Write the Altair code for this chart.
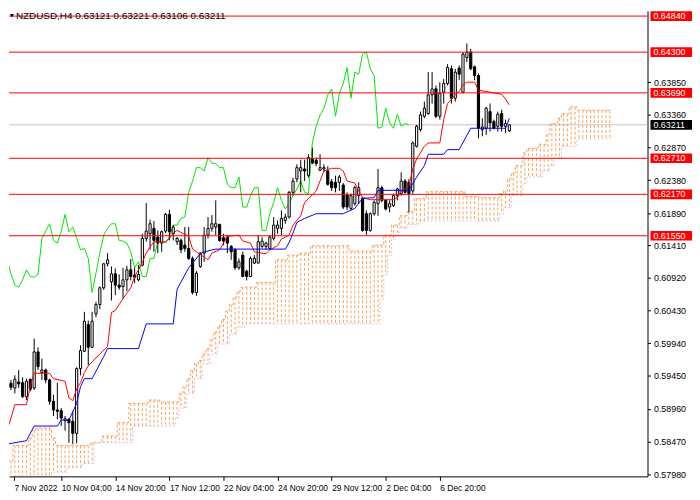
import json
import altair as alt
import pandas as pd

# ---------------- data ----------------
OPEN = [0.5917, 0.5934, 0.5927, 0.5936, 0.5935, 0.5914, 0.5940, 0.5927, 0.5981, 0.5950,
        0.5954, 0.5939, 0.5907, 0.5894, 0.5893, 0.5878, 0.5880, 0.5877, 0.5859, 0.5956,
        0.5982, 0.6022, 0.5988, 0.6038, 0.6052, 0.6077, 0.6113, 0.6086, 0.6098, 0.6081,
        0.6079, 0.6089, 0.6104, 0.6096, 0.6089, 0.6111, 0.6151, 0.6158, 0.6166, 0.6153,
        0.6144, 0.6162, 0.6187, 0.6158, 0.6146, 0.6148, 0.6141, 0.6136, 0.6121, 0.6070,
        0.6109, 0.6129, 0.6156, 0.6166, 0.6168, 0.6172, 0.6152, 0.6153, 0.6139, 0.6134,
        0.6107, 0.6126, 0.6102, 0.6094, 0.6114, 0.6114, 0.6139, 0.6139, 0.6136, 0.6151,
        0.6166, 0.6166, 0.6178, 0.6183, 0.6220, 0.6240, 0.6252, 0.6255, 0.6245, 0.6270,
        0.6268, 0.6253, 0.6255, 0.6252, 0.6236, 0.6235, 0.6235, 0.6231, 0.6216, 0.6196,
        0.6203, 0.6215, 0.6211, 0.6188, 0.6163, 0.6188, 0.6203, 0.6227, 0.6208, 0.6198,
        0.6200, 0.6215, 0.6218, 0.6237, 0.6235, 0.6222, 0.6289, 0.6314, 0.6334, 0.6338,
        0.6366, 0.6375, 0.6334, 0.6370, 0.6383, 0.6405, 0.6361, 0.6406, 0.6370, 0.6422,
        0.6430, 0.6408, 0.6395, 0.6314, 0.6316, 0.6341, 0.6326, 0.6319, 0.6338, 0.6319,
        0.63121]
HIGH = [0.5939, 0.5939, 0.5946, 0.5954, 0.5943, 0.5941, 0.5941, 0.6001, 0.5988, 0.5971,
        0.5956, 0.5941, 0.5917, 0.5935, 0.5897, 0.5885, 0.5882, 0.5892, 0.5958, 0.5991,
        0.6041, 0.6028, 0.6041, 0.6056, 0.6079, 0.6114, 0.6129, 0.6109, 0.6106, 0.6097,
        0.6107, 0.6110, 0.6120, 0.6107, 0.6111, 0.6158, 0.6204, 0.6179, 0.6177, 0.6163,
        0.6163, 0.6189, 0.6194, 0.6171, 0.6153, 0.6151, 0.6168, 0.6168, 0.6124, 0.6102,
        0.6130, 0.6168, 0.6183, 0.6186, 0.6208, 0.6173, 0.6158, 0.6156, 0.6141, 0.6136,
        0.6121, 0.6131, 0.6104, 0.6124, 0.6126, 0.6156, 0.6153, 0.6146, 0.6156, 0.6183,
        0.6178, 0.6193, 0.6188, 0.6222, 0.6242, 0.6262, 0.6269, 0.6269, 0.6277, 0.6287,
        0.6272, 0.6277, 0.6262, 0.6259, 0.6240, 0.6245, 0.6246, 0.6234, 0.6220, 0.6218,
        0.6230, 0.6235, 0.6213, 0.6193, 0.6190, 0.6208, 0.6255, 0.6230, 0.6210, 0.6208,
        0.6218, 0.6227, 0.6250, 0.6240, 0.6240, 0.6296, 0.6321, 0.6341, 0.6356, 0.6400,
        0.6400, 0.6380, 0.6385, 0.6390, 0.6412, 0.6410, 0.6405, 0.6410, 0.6430, 0.6443,
        0.6435, 0.6410, 0.6398, 0.6331, 0.6348, 0.6353, 0.6329, 0.6341, 0.6344, 0.6329,
        0.63221]
LOW = [0.5909, 0.5924, 0.5919, 0.5927, 0.5912, 0.5909, 0.5922, 0.5924, 0.5954, 0.5939,
       0.5934, 0.5902, 0.5885, 0.5880, 0.5870, 0.5863, 0.5845, 0.5843, 0.5844, 0.5946,
       0.5981, 0.5961, 0.5987, 0.6033, 0.6045, 0.6074, 0.6109, 0.6058, 0.6066, 0.6074,
       0.6061, 0.6072, 0.6088, 0.6084, 0.6087, 0.6109, 0.6146, 0.6134, 0.6131, 0.6129,
       0.6131, 0.6159, 0.6148, 0.6148, 0.6141, 0.6129, 0.6131, 0.6119, 0.6067, 0.6065,
       0.6107, 0.6116, 0.6151, 0.6161, 0.6156, 0.6146, 0.6141, 0.6129, 0.6119, 0.6104,
       0.6104, 0.6093, 0.6088, 0.6093, 0.6113, 0.6114, 0.6136, 0.6134, 0.6134, 0.6148,
       0.6158, 0.6156, 0.6173, 0.6181, 0.6215, 0.6235, 0.6220, 0.6237, 0.6242, 0.6262,
       0.6259, 0.6252, 0.6250, 0.6230, 0.6222, 0.6220, 0.6222, 0.6195, 0.6193, 0.6193,
       0.6200, 0.6203, 0.6161, 0.6156, 0.6161, 0.6185, 0.6185, 0.6205, 0.6193, 0.6190,
       0.6198, 0.6208, 0.6215, 0.6218, 0.6190, 0.6218, 0.6287, 0.6311, 0.6331, 0.6336,
       0.6353, 0.6331, 0.6329, 0.6353, 0.6380, 0.6353, 0.6356, 0.6388, 0.6368, 0.6415,
       0.6403, 0.6388, 0.6301, 0.6304, 0.6306, 0.6311, 0.6314, 0.6311, 0.6311, 0.6309,
       0.63106]
CLOSE = [0.5931, 0.5928, 0.5940, 0.5933, 0.5914, 0.5937, 0.5925, 0.5981, 0.5959, 0.5954,
         0.5939, 0.5907, 0.5894, 0.5892, 0.5882, 0.5881, 0.5875, 0.5859, 0.5956, 0.5983,
         0.6027, 0.5988, 0.6027, 0.6052, 0.6077, 0.6113, 0.6119, 0.6098, 0.6081, 0.6078,
         0.6089, 0.6104, 0.6094, 0.6093, 0.6097, 0.6151, 0.6162, 0.6173, 0.6148, 0.6144,
         0.6161, 0.6187, 0.6161, 0.6168, 0.6151, 0.6134, 0.6136, 0.6121, 0.6070, 0.6099,
         0.6129, 0.6156, 0.6166, 0.6173, 0.6173, 0.6148, 0.6147, 0.6144, 0.6131, 0.6107,
         0.6116, 0.6094, 0.6094, 0.6121, 0.6121, 0.6146, 0.6147, 0.6144, 0.6153, 0.6171,
         0.6171, 0.6181, 0.6183, 0.6220, 0.6237, 0.6257, 0.6257, 0.6252, 0.6272, 0.6264,
         0.6263, 0.6257, 0.6257, 0.6232, 0.6227, 0.6227, 0.6243, 0.6198, 0.6198, 0.6215,
         0.6227, 0.6227, 0.6163, 0.6163, 0.6188, 0.6205, 0.6227, 0.6208, 0.6195, 0.6203,
         0.6215, 0.6225, 0.6237, 0.6220, 0.6218, 0.6294, 0.6319, 0.6336, 0.6346, 0.6366,
         0.6375, 0.6334, 0.6368, 0.6383, 0.6407, 0.6361, 0.6400, 0.6397, 0.6427, 0.6430,
         0.6405, 0.6395, 0.6316, 0.6318, 0.6346, 0.6324, 0.6316, 0.6337, 0.6319, 0.6323,
         0.63211]

# Tenkan-sen (red) and Kijun-sen (blue) read as breakpoints (bar index, price)
TENKAN_I = [0, 1, 2, 5, 6, 7, 11, 12, 15, 16, 17, 18, 19, 20, 21, 24, 26, 27, 28, 30,
            32, 33, 34, 35, 36, 37, 38, 41, 42, 43, 44, 45, 46, 47, 48, 49, 52, 53, 55, 57,
            60, 61, 63, 64, 67, 68, 70, 71, 72, 73, 74, 76, 77, 80, 81, 82, 84, 86, 87, 88,
            90, 91, 92, 94, 100, 101, 102, 104, 105, 106, 108, 109, 112, 113, 114, 116, 117, 118, 119, 121,
            122, 128, 129, 130]
TENKAN_P = [0.5864, 0.5882, 0.5902, 0.5902, 0.5930, 0.5949, 0.5949, 0.5941, 0.5937, 0.5912,
            0.5908, 0.5926, 0.5935, 0.5950, 0.5960, 0.5978, 0.5989, 0.6040, 0.6043, 0.6061,
            0.6077, 0.6094, 0.6104, 0.6115, 0.6129, 0.6138, 0.6146, 0.6146, 0.6151, 0.6159,
            0.6163, 0.6160, 0.6157, 0.6154, 0.6135, 0.6131, 0.6119, 0.6129, 0.6134, 0.6154,
            0.6156, 0.6147, 0.6144, 0.6131, 0.6128, 0.6134, 0.6140, 0.6150, 0.6153, 0.6156,
            0.6171, 0.6185, 0.6205, 0.6222, 0.6237, 0.6252, 0.6256, 0.6256, 0.6252, 0.6237,
            0.6234, 0.6222, 0.6212, 0.6209, 0.6209, 0.6212, 0.6221, 0.6230, 0.6255, 0.6270,
            0.6289, 0.6294, 0.6294, 0.6329, 0.6353, 0.6366, 0.6371, 0.6381, 0.6385, 0.6385,
            0.6373, 0.6367, 0.6360, 0.6351]
KIJUN_I = [0, 5, 7, 13, 14, 16, 18, 19, 20, 22, 25, 26, 34, 36, 43, 44, 47, 50, 51, 54,
           72, 73, 74, 75, 77, 80, 87, 90, 92, 95, 96, 104, 106, 108, 109, 113, 114, 117, 120, 129,
           130]
KIJUN_P = [0.5843, 0.5848, 0.5870, 0.5870, 0.5879, 0.5879, 0.5904, 0.5929, 0.5941, 0.5941,
           0.5974, 0.5986, 0.5986, 0.6023, 0.6023, 0.6075, 0.6107, 0.6128, 0.6131, 0.6135,
           0.6135, 0.6145, 0.6159, 0.6175, 0.6181, 0.6188, 0.6188, 0.6196, 0.6211, 0.6212,
           0.6223, 0.6223, 0.6243, 0.6260, 0.6277, 0.6277, 0.6284, 0.6284, 0.6316, 0.6316,
           0.6331]
CHIKOU_SHIFT = 26

# Kumo (cloud): flat steps of Senkou A and Senkou B, start index -> value
SPAN_A_START = [0, 2, 6, 7, 8, 12, 13, 22, 25, 29, 32, 37, 40, 45, 46, 47, 48, 49, 50, 51,
                52, 53, 54, 55, 56, 57, 58, 59, 60, 61, 65, 70, 73, 76, 79, 89, 95, 98, 100, 102,
                104, 106, 109, 119, 122, 128, 129, 130, 131, 132, 134, 135, 138, 140, 141, 143, 144, 146, 148]
SPAN_A_VAL = [0.5818, 0.5841, 0.5852, 0.5864, 0.5867, 0.5852, 0.5841, 0.5845, 0.5855, 0.5875,
              0.5904, 0.5909, 0.5906, 0.5919, 0.5929, 0.5941, 0.5953, 0.5963, 0.5968, 0.5978,
              0.5986, 0.6000, 0.6011, 0.6020, 0.6030, 0.6042, 0.6052, 0.6063, 0.6072, 0.6078,
              0.6085, 0.6119, 0.6126, 0.6129, 0.6140, 0.6132, 0.6141, 0.6156, 0.6171, 0.6185,
              0.6191, 0.6211, 0.6221, 0.6214, 0.6212, 0.6218, 0.6222, 0.6240, 0.6249, 0.6260,
              0.6279, 0.6286, 0.6292, 0.6307, 0.6323, 0.6331, 0.6338, 0.6348, 0.6343]
SPAN_B_START = [0, 12, 16, 20, 23, 33, 44, 45, 47, 49, 51, 53, 55, 58, 60, 62, 97, 98, 99, 100,
                101, 102, 104, 107, 128, 129, 131, 134, 135, 139, 141, 142, 144, 148]
SPAN_B_VAL = [0.5793, 0.5801, 0.5808, 0.5814, 0.5845, 0.5870, 0.5882, 0.5897, 0.5919, 0.5941,
              0.5963, 0.5978, 0.5993, 0.6008, 0.6018, 0.6023, 0.6060, 0.6097, 0.6126, 0.6149,
              0.6156, 0.6166, 0.6172, 0.6177, 0.6188, 0.6197, 0.6215, 0.6233, 0.6243, 0.6252,
              0.6260, 0.6271, 0.6289, 0.6300]
CLOUD_END = 156

LEVELS = [0.64840, 0.64300, 0.63690, 0.62710, 0.62170, 0.61550]
LAST_PRICE = 0.63211
PRICE_TICKS = [0.57980, 0.58470, 0.58960, 0.59450, 0.59940, 0.60430, 0.60920,
               0.61410, 0.61890, 0.62380, 0.62870, 0.63360, 0.63850]
DATE_TICKS = [1.8, 14, 28, 42, 56, 70, 84, 98, 112]
DATE_LABELS = ["7 Nov 2022", "10 Nov 04:00", "14 Nov 20:00", "17 Nov 12:00",
               "22 Nov 04:00", "24 Nov 20:00", "29 Nov 12:00", "2 Dec 04:00", "6 Dec 20:00"]
HEADER = "NZDUSD,H4  0.63121 0.63221 0.63106 0.63211"

# ---------------- build tables ----------------
W, H = 646, 471
XDOM = [1.763, 164.48]
YDOM = [0.57946, 0.64919]
FONT = "Liberation Sans"

xs = alt.Scale(domain=XDOM, nice=False, zero=False)
ys = alt.Scale(domain=YDOM, nice=False, zero=False)

n = len(OPEN)
candles = pd.DataFrame({"i": list(range(n)), "o": OPEN, "h": HIGH, "l": LOW, "c": CLOSE})
candles["dir"] = ["up" if c >= o else "down" for o, c in zip(OPEN, CLOSE)]

tenkan = pd.DataFrame({"i": TENKAN_I, "p": TENKAN_P})
kijun = pd.DataFrame({"i": KIJUN_I, "p": KIJUN_P})
chikou = pd.DataFrame({"i": list(range(n - CHIKOU_SHIFT)), "p": CLOSE[CHIKOU_SHIFT:]})


def expand(starts, vals, end):
    out = []
    for k, s in enumerate(starts):
        e = starts[k + 1] if k + 1 < len(starts) else end + 1
        out += [vals[k]] * (e - s)
    return out


cloud = pd.DataFrame({
    "i": list(range(CLOUD_END + 1)),
    "a": expand(SPAN_A_START, SPAN_A_VAL, CLOUD_END),
    "b": expand(SPAN_B_START, SPAN_B_VAL, CLOUD_END),
})

levels = pd.DataFrame({"p": LEVELS})
boxes = pd.DataFrame({
    "p": LEVELS + [LAST_PRICE],
    "label": [f"{v:.5f}" for v in LEVELS] + [f"{LAST_PRICE:.5f}"],
    "kind": ["level"] * len(LEVELS) + ["last"],
})
header = pd.DataFrame({"t": [HEADER]})

label_expr = json.dumps(DATE_LABELS) + "[round(datum.value / 14)]"

X_AXIS = alt.Axis(values=DATE_TICKS, labelExpr=label_expr, labelAlign="left",
                  labelPadding=3, tickSize=4, tickColor="black", domainColor="black",
                  labelColor="black", labelFont=FONT, labelFontSize=8.5, grid=False,
                  title=None, labelFlush=False, labelOverlap=False)
Y_AXIS = alt.Axis(orient="right", values=PRICE_TICKS, format=".5f", tickSize=3,
                  labelPadding=3, tickColor="black", domainColor="black",
                  labelColor="black", labelFont=FONT, labelFontSize=9, grid=False,
                  title=None, labelFlush=False, labelOverlap=False)


def X(field="i:Q"):
    return alt.X(field, scale=xs, axis=X_AXIS, title=None)


def Y(field):
    return alt.Y(field, scale=ys, axis=Y_AXIS, title=None)


# ---------------- layers ----------------
last_line = alt.Chart(boxes).transform_filter("datum.kind == 'last'").mark_rule(
    color="#c0c0c0", strokeWidth=1).encode(y=Y("p:Q"))

cloud_rules = alt.Chart(cloud).mark_rule(
    color="#f4a460", strokeWidth=1, strokeDash=[3, 2], clip=True).encode(
    x=X(), y=Y("a:Q"), y2="b:Q")

span_b = alt.Chart(cloud).mark_line(
    color="#d8bfd8", strokeWidth=1, strokeDash=[2, 2], interpolate="step", clip=True).encode(
    x=X(), y=Y("b:Q"))

span_a = alt.Chart(cloud).mark_line(
    color="#f4a460", strokeWidth=1, strokeDash=[3, 2], interpolate="step", clip=True).encode(
    x=X(), y=Y("a:Q"))

wicks = alt.Chart(candles).mark_rule(color="black", strokeWidth=1, clip=True).encode(
    x=X(), y=Y("l:Q"), y2="h:Q")

bodies = alt.Chart(candles).mark_bar(width=2.2, stroke="black", strokeWidth=1, clip=True).encode(
    x=X(), y=Y("o:Q"), y2="c:Q",
    fill=alt.Fill("dir:N", scale=alt.Scale(domain=["up", "down"], range=["white", "black"]),
                  legend=None))

chikou_line = alt.Chart(chikou).mark_line(color="#00e600", strokeWidth=1, clip=True).encode(
    x=X(), y=Y("p:Q"))
tenkan_line = alt.Chart(tenkan).mark_line(color="#ff0000", strokeWidth=1, clip=True).encode(
    x=X(), y=Y("p:Q"))
kijun_line = alt.Chart(kijun).mark_line(color="#0000ff", strokeWidth=1, clip=True).encode(
    x=X(), y=Y("p:Q"))

level_lines = alt.Chart(levels).mark_rule(color="#ff0000", strokeWidth=1).encode(
    y=Y("p:Q"))

box_rects = alt.Chart(boxes).transform_calculate(
    top="datum.p + 0.00072", bot="datum.p - 0.00072").mark_rect().encode(
    x=alt.value(649), x2=alt.value(691),
    y=Y("top:Q"), y2="bot:Q",
    color=alt.Color("kind:N", scale=alt.Scale(domain=["level", "last"],
                                               range=["#ff0000", "#000000"]), legend=None))

box_text = alt.Chart(boxes).mark_text(
    align="left", baseline="middle", color="white", font=FONT, fontSize=9).encode(
    x=alt.value(652), y=Y("p:Q"), text="label:N")

header_text = alt.Chart(header).mark_text(
    align="left", baseline="middle", color="black", font=FONT, fontSize=10).encode(
    x=alt.value(7), y=alt.value(5), text="t:N")

header_tri = alt.Chart(header).mark_point(
    shape="triangle-down", filled=True, color="black", size=16, opacity=1).encode(
    x=alt.value(3), y=alt.value(5))

chart = alt.layer(
    last_line, cloud_rules, span_a, span_b, chikou_line, wicks, bodies,
    tenkan_line, kijun_line, level_lines, box_rects, box_text, header_text, header_tri,
).properties(
    width=W, height=H, padding=0, background="white"
).configure_view(stroke=None)

chart.save("out.html", embed_options={"renderer": "svg", "actions": False})
